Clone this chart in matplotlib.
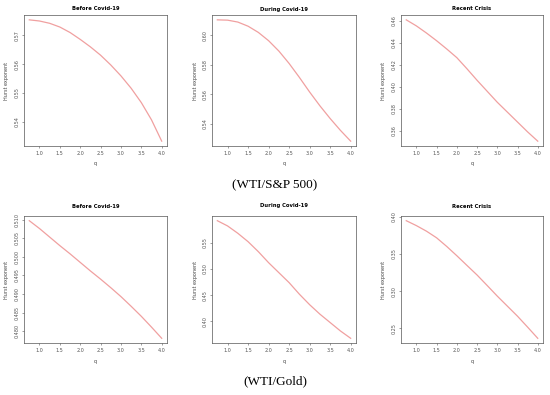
import numpy as np
import matplotlib.pyplot as plt

q = [0.75, 1.0, 1.25, 1.5, 1.75, 2.0, 2.25, 2.5, 2.75, 3.0, 3.25, 3.5, 3.75, 4.0]

# WTI/S&P 500
sp_before = [0.5754, 0.5750, 0.5742, 0.5729, 0.5710, 0.5686, 0.5660, 0.5631,
             0.5597, 0.5559, 0.5516, 0.5466, 0.5406, 0.5332]
sp_during = [0.6103, 0.6101, 0.6088, 0.6060, 0.6018, 0.5962, 0.5892, 0.5808,
             0.5714, 0.5615, 0.5522, 0.5436, 0.5356, 0.5283]
sp_recent = [0.4610, 0.4555, 0.4490, 0.4420, 0.4345, 0.4266, 0.4165, 0.4060,
             0.3960, 0.3860, 0.3770, 0.3680, 0.3590, 0.3506]

# WTI/Gold
gold_before = [0.5097, 0.5076, 0.5053, 0.5030, 0.5008, 0.4985, 0.4962, 0.4940,
               0.4917, 0.4893, 0.4867, 0.4840, 0.4811, 0.4781]
gold_during = [0.592, 0.582, 0.568, 0.552, 0.533, 0.512, 0.493, 0.474,
               0.452, 0.432, 0.414, 0.398, 0.382, 0.368]
gold_recent = [0.3946, 0.3880, 0.3805, 0.3716, 0.3600, 0.3475, 0.3345, 0.3216,
               0.3075, 0.2932, 0.2797, 0.2662, 0.2515, 0.2365]

titles = ["Before Covid-19", "During Covid-19", "Recent Crisis"]
yticks = [
    [0.54, 0.55, 0.56, 0.57],
    [0.54, 0.56, 0.58, 0.60],
    [0.36, 0.38, 0.40, 0.42, 0.44, 0.46],
    [0.480, 0.485, 0.490, 0.495, 0.500, 0.505, 0.510],
    [0.40, 0.45, 0.50, 0.55],
    [0.25, 0.30, 0.35, 0.40],
]
yfmt = ["%.2f", "%.2f", "%.2f", "%.3f", "%.2f", "%.2f"]
series = [sp_before, sp_during, sp_recent, gold_before, gold_during, gold_recent]
captions = ["(WTI/S&P 500)", "(WTI/Gold)"]

W, H = 550, 395
fig = plt.figure(figsize=(5.5, 3.95), dpi=100)

lefts = [(24, 167), (212, 356), (401, 543)]
rows = [(15, 146), (216, 343)]
label_x = [7, 195, 383]
title_y = [9, 206]
xlab_y = [163, 362]
cap_y = [185, 381]

for r in range(2):
    for c in range(3):
        i = r * 3 + c
        x0, x1 = lefts[c]
        y0, y1 = rows[r]
        ax = fig.add_axes([x0 / W, 1 - y1 / H, (x1 - x0) / W, (y1 - y0) / H])
        y = series[i]
        ax.plot(q, y, color="#f0a0a0", lw=0.9)
        ax.set_xlim(0.62, 4.13)
        pad = (max(y) - min(y)) * 0.04
        ax.set_ylim(min(y) - pad, max(y) + pad)
        ax.set_xticks([1.0, 1.5, 2.0, 2.5, 3.0, 3.5, 4.0])
        ax.set_xticklabels(["%.1f" % t for t in ax.get_xticks()])
        ax.set_yticks(yticks[i])
        ax.set_yticklabels([yfmt[i] % t for t in yticks[i]], rotation=90, va="center")
        ax.tick_params(labelsize=3.5, length=1.5, width=0.4, pad=2,
                       colors="#555555")
        for s in ax.spines.values():
            s.set_linewidth(0.5)
            s.set_color("#555555")
        fig.text((x0 + x1) / 2 / W, 1 - title_y[r] / H, titles[c],
                 ha="center", va="center", fontsize=3.8, fontweight="bold")
        fig.text((x0 + x1) / 2 / W, 1 - xlab_y[r] / H, "q",
                 ha="center", va="center", fontsize=3.5, color="#444444")
        fig.text(label_x[c] / W, 1 - (y0 + y1) / 2 / H, "Hurst exponent",
                 ha="center", va="center", rotation=90, fontsize=3.5,
                 color="#444444")
    fig.text(0.5, 1 - cap_y[r] / H, captions[r], ha="center", va="center",
             fontsize=9.5, family="Liberation Serif")

fig.savefig("out.png", dpi=100)
